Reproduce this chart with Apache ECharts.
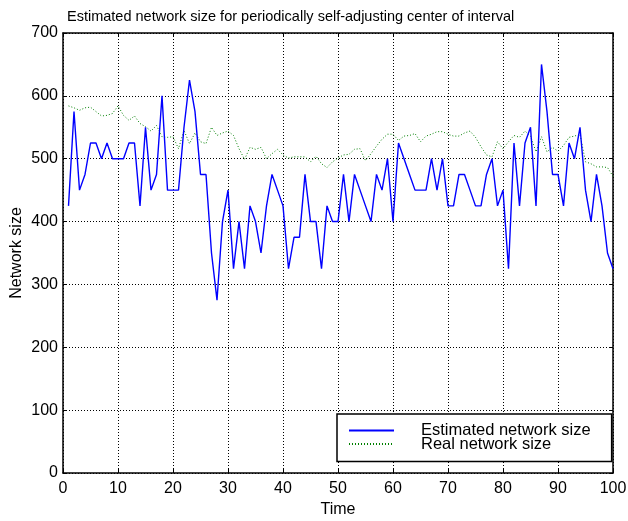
<!DOCTYPE html>
<html>
<head>
<meta charset="utf-8">
<script src="https://cdn.jsdelivr.net/npm/echarts@6/dist/echarts.min.js"></script>
<style>
  html, body { margin: 0; padding: 0; background: #fff; }
  #chart { width: 628px; height: 521px; }
</style>
</head>
<body>
<div id="chart"></div>
<script>
// Time steps
const timeSteps = [
  1, 2, 3, 4, 5, 6, 7, 8, 9, 10,
  11, 12, 13, 14, 15, 16, 17, 18, 19, 20,
  21, 22, 23, 24, 25, 26, 27, 28, 29, 30,
  31, 32, 33, 34, 35, 36, 37, 38, 39, 40,
  41, 42, 43, 44, 45, 46, 47, 48, 49, 50,
  51, 52, 53, 54, 55, 56, 57, 58, 59, 60,
  61, 62, 63, 64, 65, 66, 67, 68, 69, 70,
  71, 72, 73, 74, 75, 76, 77, 78, 79, 80,
  81, 82, 83, 84, 85, 86, 87, 88, 89, 90,
  91, 92, 93, 94, 95, 96, 97, 98, 99, 100
];

// Network size estimated by the self-adjusting interval scheme
const estimatedSize = [
  425, 575, 450, 475, 525, 525, 500, 525, 500, 500,
  500, 525, 525, 425, 550, 450, 475, 600, 450, 450,
  450, 550, 625, 575, 475, 475, 350, 275, 400, 450,
  325, 400, 325, 425, 400, 350, 425, 475, 450, 425,
  325, 375, 375, 475, 400, 400, 325, 425, 400, 400,
  475, 400, 475, 450, 425, 400, 475, 450, 500, 400,
  525, 500, 475, 450, 450, 450, 500, 450, 500, 425,
  425, 475, 475, 450, 425, 425, 475, 500, 425, 450,
  325, 525, 425, 525, 550, 425, 650, 575, 475, 475,
  425, 525, 500, 550, 450, 400, 475, 425, 350, 325
];

// Actual network size
const realSize = [
  584, 581, 577, 581, 582, 575, 568, 569, 572, 584,
  569, 561, 568, 556, 551, 544, 553, 535, 534, 535,
  516, 545, 524, 541, 527, 524, 550, 537, 541, 544,
  537, 516, 499, 518, 515, 518, 500, 508, 515, 506,
  501, 503, 503, 503, 495, 504, 492, 486, 495, 501,
  506, 507, 515, 516, 497, 508, 520, 531, 539, 539,
  529, 536, 537, 540, 527, 536, 539, 543, 543, 539,
  536, 536, 541, 544, 534, 519, 506, 503, 527, 516,
  527, 537, 534, 544, 536, 511, 535, 511, 518, 512,
  521, 534, 536, 539, 495, 492, 487, 487, 486, 472
];

// Axis ranges and tick spacing
const xTicks = { min: 0, max: 100, step: 10 };
const yTicks = { min: 0, max: 700, step: 100 };

const titleText = 'Estimated network size for periodically self-adjusting center of interval';
const xName = 'Time';
const yName = 'Network size';
const seriesNames = ['Estimated network size', 'Real network size'];

const FONT = '"Liberation Sans", Arial, Helvetica, sans-serif';

const pairs = (ys) => timeSteps.map((t, i) => [t, ys[i]]);

const gridLine = { show: true, lineStyle: { color: '#000', type: [1, 2], width: 1 } };
const boxLine = { show: true, onZero: false, lineStyle: { color: '#000', width: 1.5 } };
const inTicks = { show: true, inside: true, length: 4, lineStyle: { color: '#000', width: 1 } };

const chart = echarts.init(document.getElementById('chart'), null, { renderer: 'canvas' });

chart.setOption({
  animation: false,
  backgroundColor: '#fff',
  textStyle: { fontFamily: FONT },
  title: {
    text: titleText,
    left: 62,
    top: 4,
    textStyle: { fontFamily: FONT, fontSize: 14.5, fontWeight: 'normal', color: '#000' }
  },
  grid: {
    left: 63, right: 15, top: 33, bottom: 48,
    containLabel: false,
    outerBoundsMode: 'none'
  },
  legend: {
    orient: 'vertical',
    left: 337,
    top: 414,
    padding: [8, 21, 9, 11],
    itemGap: -3.5,
    itemWidth: 45,
    itemHeight: 13,
    backgroundColor: '#fff',
    borderColor: '#000',
    borderWidth: 1.5,
    borderRadius: 0,
    data: seriesNames,
    itemStyle: { opacity: 0 },
    textStyle: { fontFamily: FONT, fontSize: 16.5, color: '#000', padding: [0, 0, 0, 22] }
  },
  xAxis: [
    {
      type: 'value',
      min: xTicks.min, max: xTicks.max, interval: xTicks.step,
      name: xName, nameLocation: 'middle', nameGap: 29, nameMoveOverlap: false,
      nameTextStyle: { fontFamily: FONT, fontSize: 16, color: '#000' },
      axisLine: boxLine, axisTick: inTicks, splitLine: gridLine,
      axisLabel: { margin: 8, fontFamily: FONT, fontSize: 16, color: '#000' }
    },
    {
      type: 'value', position: 'top',
      min: xTicks.min, max: xTicks.max, interval: xTicks.step,
      axisLine: boxLine, axisTick: inTicks, splitLine: { show: false },
      axisLabel: { show: false }
    }
  ],
  yAxis: [
    {
      type: 'value',
      min: yTicks.min, max: yTicks.max, interval: yTicks.step,
      name: yName, nameLocation: 'middle', nameGap: 38, nameRotate: 90, nameMoveOverlap: false,
      nameTextStyle: { fontFamily: FONT, fontSize: 16, color: '#000' },
      axisLine: boxLine, axisTick: inTicks, splitLine: gridLine,
      axisLabel: { margin: 5, fontFamily: FONT, fontSize: 16, color: '#000' }
    },
    {
      type: 'value', position: 'right',
      min: yTicks.min, max: yTicks.max, interval: yTicks.step,
      axisLine: boxLine, axisTick: inTicks, splitLine: { show: false },
      axisLabel: { show: false }
    }
  ],
  series: [
    {
      name: seriesNames[0],
      type: 'line',
      data: pairs(estimatedSize),
      showSymbol: false, symbol: 'none',
      lineStyle: { color: '#0000ff', width: 1.4 },
      itemStyle: { color: '#0000ff' },
      z: 3
    },
    {
      name: seriesNames[1],
      type: 'line',
      data: pairs(realSize),
      showSymbol: false, symbol: 'none',
      lineStyle: { color: '#008000', width: 1, type: [1, 2] },
      itemStyle: { color: '#008000' },
      z: 2
    }
  ]
});
</script>
</body>
</html>
